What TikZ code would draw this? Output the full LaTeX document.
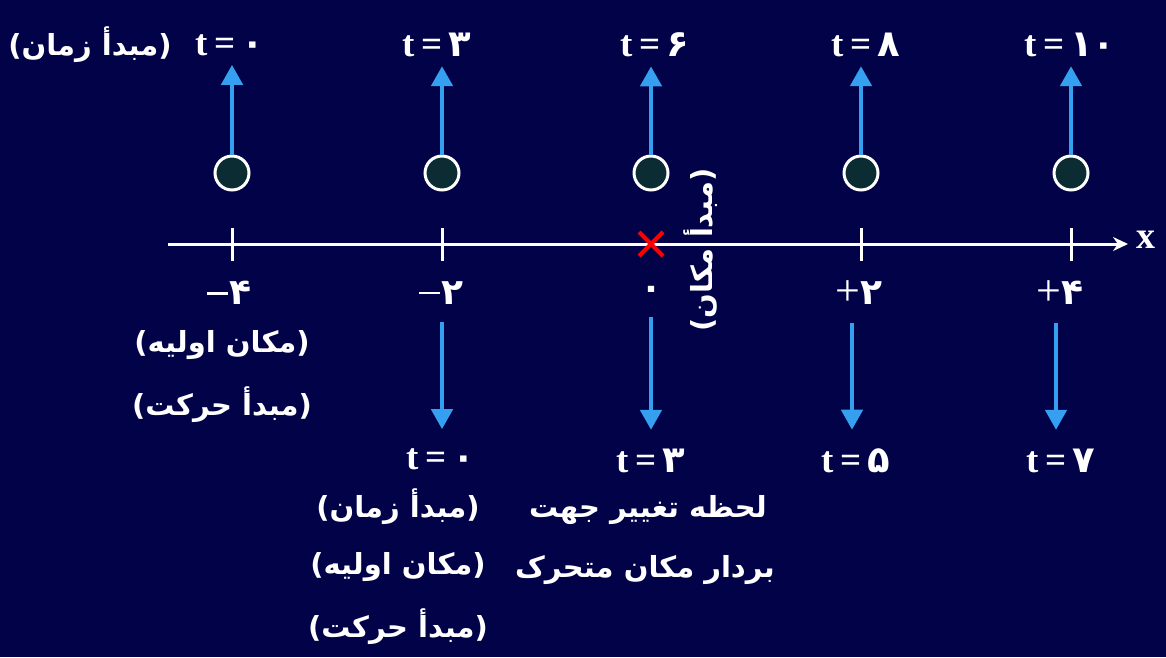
\documentclass[tikz,border=0pt]{standalone}
\usepackage{fontspec}
\setmainfont{Liberation Serif}
\newfontfamily\arabicfont[Script=Arabic]{DejaVu Sans}
\TeXXeTstate=1
\usetikzlibrary{arrows.meta,positioning}
\definecolor{bgnavy}{RGB}{2,2,72}
\definecolor{arrowblue}{RGB}{54,160,240}
\definecolor{dotfill}{RGB}{10,44,50}
\newcommand{\fa}[1]{{\arabicfont\bfseries\beginR #1\endR}}
\newcommand{\tval}[1]{\textbf{t\,=\,}{\arabicfont\bfseries #1}}
\newcommand{\negsign}{\raisebox{10pt}{\rule{21pt}{2.6pt}}\hspace{2pt}}
\newcommand{\possign}{{\fontsize{44}{44}\selectfont\mdseries\raisebox{-1pt}{+}}}

\begin{document}
\begin{tikzpicture}[x=1pt,y=-1pt,
  txt/.style={text=white,font=\fontsize{29}{34}\selectfont,inner sep=1pt},
  tv/.style={text=white,font=\fontsize{37}{40}\selectfont,inner sep=1pt},
  num/.style={text=white,font=\fontsize{36}{38}\selectfont\bfseries,inner sep=1pt},
  dot/.style={circle,draw=white,line width=3pt,fill=dotfill,minimum size=34pt,inner sep=0pt},
  up/.style={arrowblue,line width=4.5pt,-{Triangle[length=20pt,width=21pt]}},
  tick/.style={white,line width=3pt}]
\fill[bgnavy] (0,0) rectangle (1166,657);
\useasboundingbox (0,0) rectangle (1166,657);

% axis
\coordinate (xs) at (168,244);
\coordinate (xe) at (1128,244);
\draw[white,line width=3pt,-{Stealth[length=15pt,width=14pt]}] (xs) -- (xe);
\node[txt,font=\fontsize{38}{40}\selectfont\bfseries] (xl) at (1146,240) {x};

% ticks
\coordinate (k1) at (232,244);
\coordinate (k2) at (442,244);
\coordinate (k3) at (651,244);
\coordinate (k4) at (861,244);
\coordinate (k5) at (1071,244);
\draw[tick] (k1) ++(0,-16) -- ++(0,33);
\draw[tick] (k2) ++(0,-16) -- ++(0,33);
\draw[tick] (k4) ++(0,-16) -- ++(0,33);
\draw[tick] (k5) ++(0,-16) -- ++(0,33);
\draw[red,line width=4pt] (k3) ++(-12,-12) -- ++(24,24);
\draw[red,line width=4pt] (k3) ++(12,-12) -- ++(-24,24);

% tick labels
\node[num] (l1) at (229,293) {\negsign\fa{۴}};
\node[num] (l2) at (441,293) {\negsign\fa{۲}};
\node[num] (l3) at (651,293) {\fa{۰}};
\node[num] (l4) at (859,293) {\possign\fa{۲}};
\node[num] (l5) at (1060,293) {\possign\fa{۴}};
\node[txt,rotate=90] (org) at (701,250) {\fa{(مبدأ مکان)}};

% positions of the mover
\node[dot] (c1) at (232,173) {};
\node[dot] (c2) at (442,173) {};
\node[dot] (c3) at (651,173) {};
\node[dot] (c4) at (861,173) {};
\node[dot] (c5) at (1071,173) {};

% times on the way out
\node[tv] (t1) at (230,45) {\tval{۰}};
\node[tv] (t2) at (437,45) {\tval{۳}};
\node[tv] (t3) at (655,45) {\tval{۶}};
\node[tv] (t4) at (866,45) {\tval{۸}};
\node[tv] (t5) at (1070,45) {\tval{۱۰}};
\node[txt] (t1n) at (90,45) {\fa{(مبدأ زمان)}};
\path[up,shorten >=8pt]
(c1) edge (c1 |- t1.south)
(c2) edge (c2 |- t2.south)
(c3) edge (c3 |- t3.south)
(c4) edge (c4 |- t4.south)
(c5) edge (c5 |- t5.south)
;

% start point notes
\node[txt] (s1) at (222,345) {\fa{(مکان اولیه)}};
\node[txt] (s2) at (222,405) {\fa{(مبدأ حرکت)}};

% times on the way back
\node[tv] (b2) at (441,459) {\tval{۰}};
\node[tv] (b3) at (651,461) {\tval{۳}};
\node[tv] (b4) at (856,461) {\tval{۵}};
\node[tv] (b5) at (1061,461) {\tval{۷}};
\node[txt] (b2a) at (398,507) {\fa{(مبدأ زمان)}};
\node[txt] (b2b) at (398,567) {\fa{(مکان اولیه)}};
\node[txt] (b2c) at (398,627) {\fa{(مبدأ حرکت)}};
\node[txt] (b3a) at (648,510) {\fa{لحظه تغییر جهت}};
\node[txt] (b3b) at (645,570) {\fa{بردار مکان متحرک}};
\path[up,shorten <=16pt,shorten >=18pt]
(k2 |- l2.south) edge (k2 |- b2.north)
(k3 |- l3.south) edge (k3 |- b3.north)
([xshift=-7pt]l4.south) edge ([xshift=-7pt]l4.south |- b4.north)
([xshift=-4pt]l5.south) edge ([xshift=-4pt]l5.south |- b5.north)
;
\end{tikzpicture}
\end{document}
